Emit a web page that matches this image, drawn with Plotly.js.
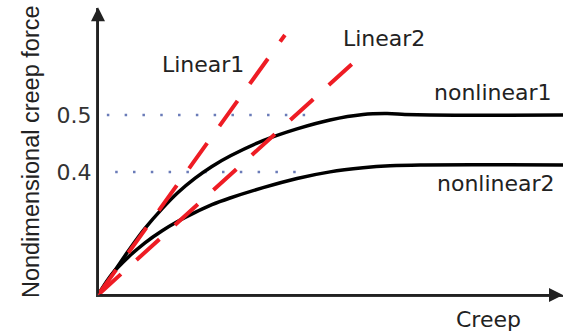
<!DOCTYPE html>
<html>
<head>
<meta charset="utf-8">
<script src="https://cdn.plot.ly/plotly-3.0.1.min.js"></script>
<style>html,body{margin:0;padding:0;background:#fff;}#chart{width:584px;height:331px;}</style>
</head>
<body>
<div id="chart"></div>
<script>
// Schematic creep curves (arbitrary units)
var nl1X = [0, 0.37, 0.65, 1.01, 1.38, 1.72, 2.09, 2.45, 2.86, 3.55, 4.28, 4.99, 5.70, 6.22, 6.60, 7.14, 10.04];
var nl1Y = [0, 0.87, 1.53, 2.32, 3.01, 3.57, 4.07, 4.48, 4.86, 5.38, 5.79, 6.10, 6.29, 6.32, 6.29, 6.27, 6.27];
var nl2X = [0, 0.30, 0.65, 1.01, 1.38, 1.72, 2.09, 2.45, 2.84, 3.55, 4.28, 4.99, 5.70, 6.28, 6.93, 10.04];
var nl2Y = [0, 0.73, 1.32, 1.82, 2.24, 2.57, 2.88, 3.15, 3.38, 3.74, 4.06, 4.29, 4.43, 4.50, 4.53, 4.53];
var lin1X = [0, 4.02];
var lin1Y = [0, 9.06];
var lin2X = [0, 5.51];
var lin2Y = [0, 8.12];
// reference levels
var levelLabels = ["0.4", "0.5"];
var levelVals = [4.29, 6.27];
var levelStartX = [0.37, 0.19];
var levelEndX = [4.58, 4.77];
var curveNames = ["nonlinear1", "nonlinear2", "Linear1", "Linear2"];

var red = "#ee1c24";
var traces = [];
for (var i = 0; i < levelVals.length; i++) {
  traces.push({x: [levelStartX[i], levelEndX[i]], y: [levelVals[i], levelVals[i]], mode: "lines",
    line: {color: "#6a7bb8", width: 2.5, dash: "2.5px,15.3px"}, hoverinfo: "skip"});
}
traces.push({x: nl1X, y: nl1Y, mode: "lines", name: curveNames[0], cliponaxis: false,
  line: {color: "#000", width: 3.5, shape: "spline", smoothing: 1}});
traces.push({x: nl2X, y: nl2Y, mode: "lines", name: curveNames[1], cliponaxis: false,
  line: {color: "#000", width: 3.5, shape: "spline", smoothing: 1}});
traces.push({x: lin1X, y: lin1Y, mode: "lines", name: curveNames[2],
  line: {color: red, width: 4, dash: "31px,21px"}});
traces.push({x: lin2X, y: lin2Y, mode: "lines", name: curveNames[3],
  line: {color: red, width: 4, dash: "31px,21px"}});

var lab = {family: "DejaVu Sans", size: 22, color: "#222"};
var layout = {
  width: 584, height: 331,
  margin: {l: 98, r: 21, t: 8, b: 36},
  paper_bgcolor: "#fff", plot_bgcolor: "#fff",
  showlegend: false,
  xaxis: {range: [0, 10], showgrid: false, zeroline: false, showticklabels: false, ticks: "",
    showline: true, linecolor: "#333", linewidth: 2, fixedrange: true},
  yaxis: {range: [0, 10], showgrid: false, zeroline: false, ticks: "",
    tickvals: levelVals, ticktext: levelLabels, tickfont: {family: "DejaVu Sans", size: 22, color: "#333"},
    showline: true, linecolor: "#333", linewidth: 2, fixedrange: true},
  annotations: [
    {x: 10, y: 0, ax: 0, ay: 0, axref: "x", ayref: "y", xref: "x", yref: "y", text: "", showarrow: true,
      arrowhead: 2, arrowsize: 1.4, arrowwidth: 2, arrowcolor: "#222"},
    {x: 0, y: 10.03, ax: 0, ay: 0, axref: "x", ayref: "y", xref: "x", yref: "y", text: "", showarrow: true,
      arrowhead: 2, arrowsize: 1.4, arrowwidth: 2, arrowcolor: "#222"},
    {x: 1.33, y: 8.03, xref: "x", yref: "y", text: curveNames[2], showarrow: false, xanchor: "left", yanchor: "middle", font: lab},
    {x: 5.23, y: 8.94, xref: "x", yref: "y", text: curveNames[3], showarrow: false, xanchor: "left", yanchor: "middle", font: lab},
    {x: 7.18, y: 7.07, xref: "x", yref: "y", text: curveNames[0], showarrow: false, xanchor: "left", yanchor: "middle", font: lab},
    {x: 7.25, y: 3.89, xref: "x", yref: "y", text: curveNames[1], showarrow: false, xanchor: "left", yanchor: "middle", font: lab},
    {x: 0.766, y: -0.087, xref: "paper", yref: "paper", text: "Creep", showarrow: false, xanchor: "left", yanchor: "middle", font: lab},
    {x: -0.145, y: 0.5, xref: "paper", yref: "paper", text: "Nondimensional creep force", textangle: -90,
      showarrow: false, xanchor: "center", yanchor: "middle", font: {family: "Liberation Sans", size: 23.5, color: "#222"}}
  ]
};
Plotly.newPlot("chart", traces, layout, {displayModeBar: false, staticPlot: true});
</script>
</body>
</html>
